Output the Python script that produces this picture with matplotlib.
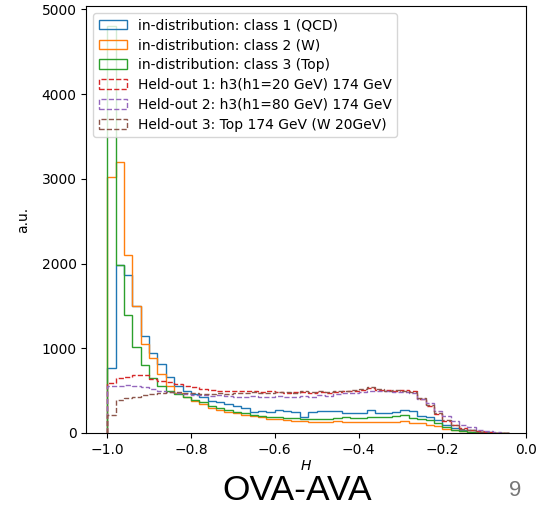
import numpy as np
import matplotlib
matplotlib.use("Agg")
import matplotlib.pyplot as plt


# Bin edges of the H histogram (48 bins of width 0.02)
bin_edges = np.linspace(-1.0, -0.04, 49)

# Counts per bin
qcd = [770, 1980, 1860, 1500, 1150, 940, 820, 660, 560, 500,
       460, 420, 380, 370, 340, 320, 300, 250, 260, 250,
       270, 260, 250, 190, 250, 255, 260, 255, 240, 235,
       240, 270, 240, 235, 250, 270, 260, 200, 190, 150,
       95, 60, 40, 30, 15, 8, 3, 0]

w_boson = [3020, 3200, 2100, 1500, 1050, 880, 700, 560, 470, 420,
           380, 340, 300, 270, 250, 230, 210, 200, 190, 170,
           160, 150, 145, 140, 130, 135, 130, 140, 130, 125,
           130, 125, 135, 130, 125, 140, 120, 115, 100, 80,
           50, 40, 25, 15, 10, 5, 2, 0]

top = [4800, 1980, 1390, 1010, 800, 650, 560, 500, 460, 420,
       390, 360, 320, 290, 270, 250, 230, 210, 200, 190,
       185, 180, 175, 170, 165, 165, 170, 180, 190, 175,
       180, 190, 185, 190, 200, 210, 180, 170, 150, 115,
       70, 40, 25, 15, 8, 3, 1, 0]

held_out_1 = [590, 650, 665, 690, 680, 640, 610, 600, 580, 560,
              540, 520, 510, 500, 495, 490, 500, 490, 480, 490,
              480, 470, 485, 480, 470, 480, 475, 485, 495, 500,
              510, 530, 510, 505, 500, 510, 490, 400, 320, 220,
              140, 90, 60, 35, 20, 8, 3, 0]

held_out_2 = [560, 560, 570, 560, 540, 520, 500, 480, 470, 460,
              450, 450, 440, 450, 440, 430, 430, 440, 430, 420,
              440, 430, 420, 440, 430, 450, 440, 460, 470, 470,
              480, 490, 500, 490, 480, 480, 470, 400, 350, 260,
              200, 140, 100, 70, 40, 20, 8, 0]

held_out_3 = [210, 390, 410, 430, 450, 460, 470, 480, 480, 470,
              470, 460, 460, 470, 460, 470, 470, 480, 475, 470,
              480, 480, 470, 490, 480, 490, 480, 490, 500, 510,
              520, 540, 520, 500, 510, 500, 480, 410, 330, 230,
              150, 90, 50, 30, 15, 5, 2, 0]

labels = [
    "in-distribution: class 1 (QCD)",
    "in-distribution: class 2 (W)",
    "in-distribution: class 3 (Top)",
    "Held-out 1: h3(h1=20 GeV) 174 GeV",
    "Held-out 2: h3(h1=80 GeV) 174 GeV",
    "Held-out 3: Top 174 GeV (W 20GeV)",
]


def main():
    series = [qcd, w_boson, top, held_out_1, held_out_2, held_out_3]
    colors = ["tab:blue", "tab:orange", "tab:green",
              "tab:red", "tab:purple", "tab:brown"]
    styles = ["-", "-", "-", "--", "--", "--"]

    centers = 0.5 * (bin_edges[:-1] + bin_edges[1:])

    fig = plt.figure(figsize=(5.39, 5.17), dpi=100)
    ax = fig.add_axes([0.16, 0.1625, 0.816, 0.826])

    # Step histograms
    for values, color, ls, label in zip(series, colors, styles, labels):
        ax.hist(centers, bins=bin_edges, weights=values, histtype="step",
                color=color, linestyle=ls, linewidth=1.0, label=label)

    ax.set_xlim(-1.05, 0.0)
    ax.set_ylim(0, 5040)
    ax.set_xticks([-1.0, -0.8, -0.6, -0.4, -0.2, 0.0])
    ax.set_yticks([0, 1000, 2000, 3000, 4000, 5000])
    ax.set_xlabel("$H$", fontsize=10, labelpad=2)
    ax.set_ylabel("a.u.", fontsize=10, labelpad=8)
    ax.legend(loc="upper left", fontsize=10, labelspacing=0.42)

    # Slide footer
    fig.text(0.551, 0.052, "OVA-AVA", fontsize=25.5, ha="center", va="center",
             family="Liberation Sans")
    fig.text(0.955, 0.052, "9", fontsize=16, ha="center", va="center",
             color="#777777", family="Liberation Sans")

    fig.savefig("out.png", dpi=100)


if __name__ == "__main__":
    main()
